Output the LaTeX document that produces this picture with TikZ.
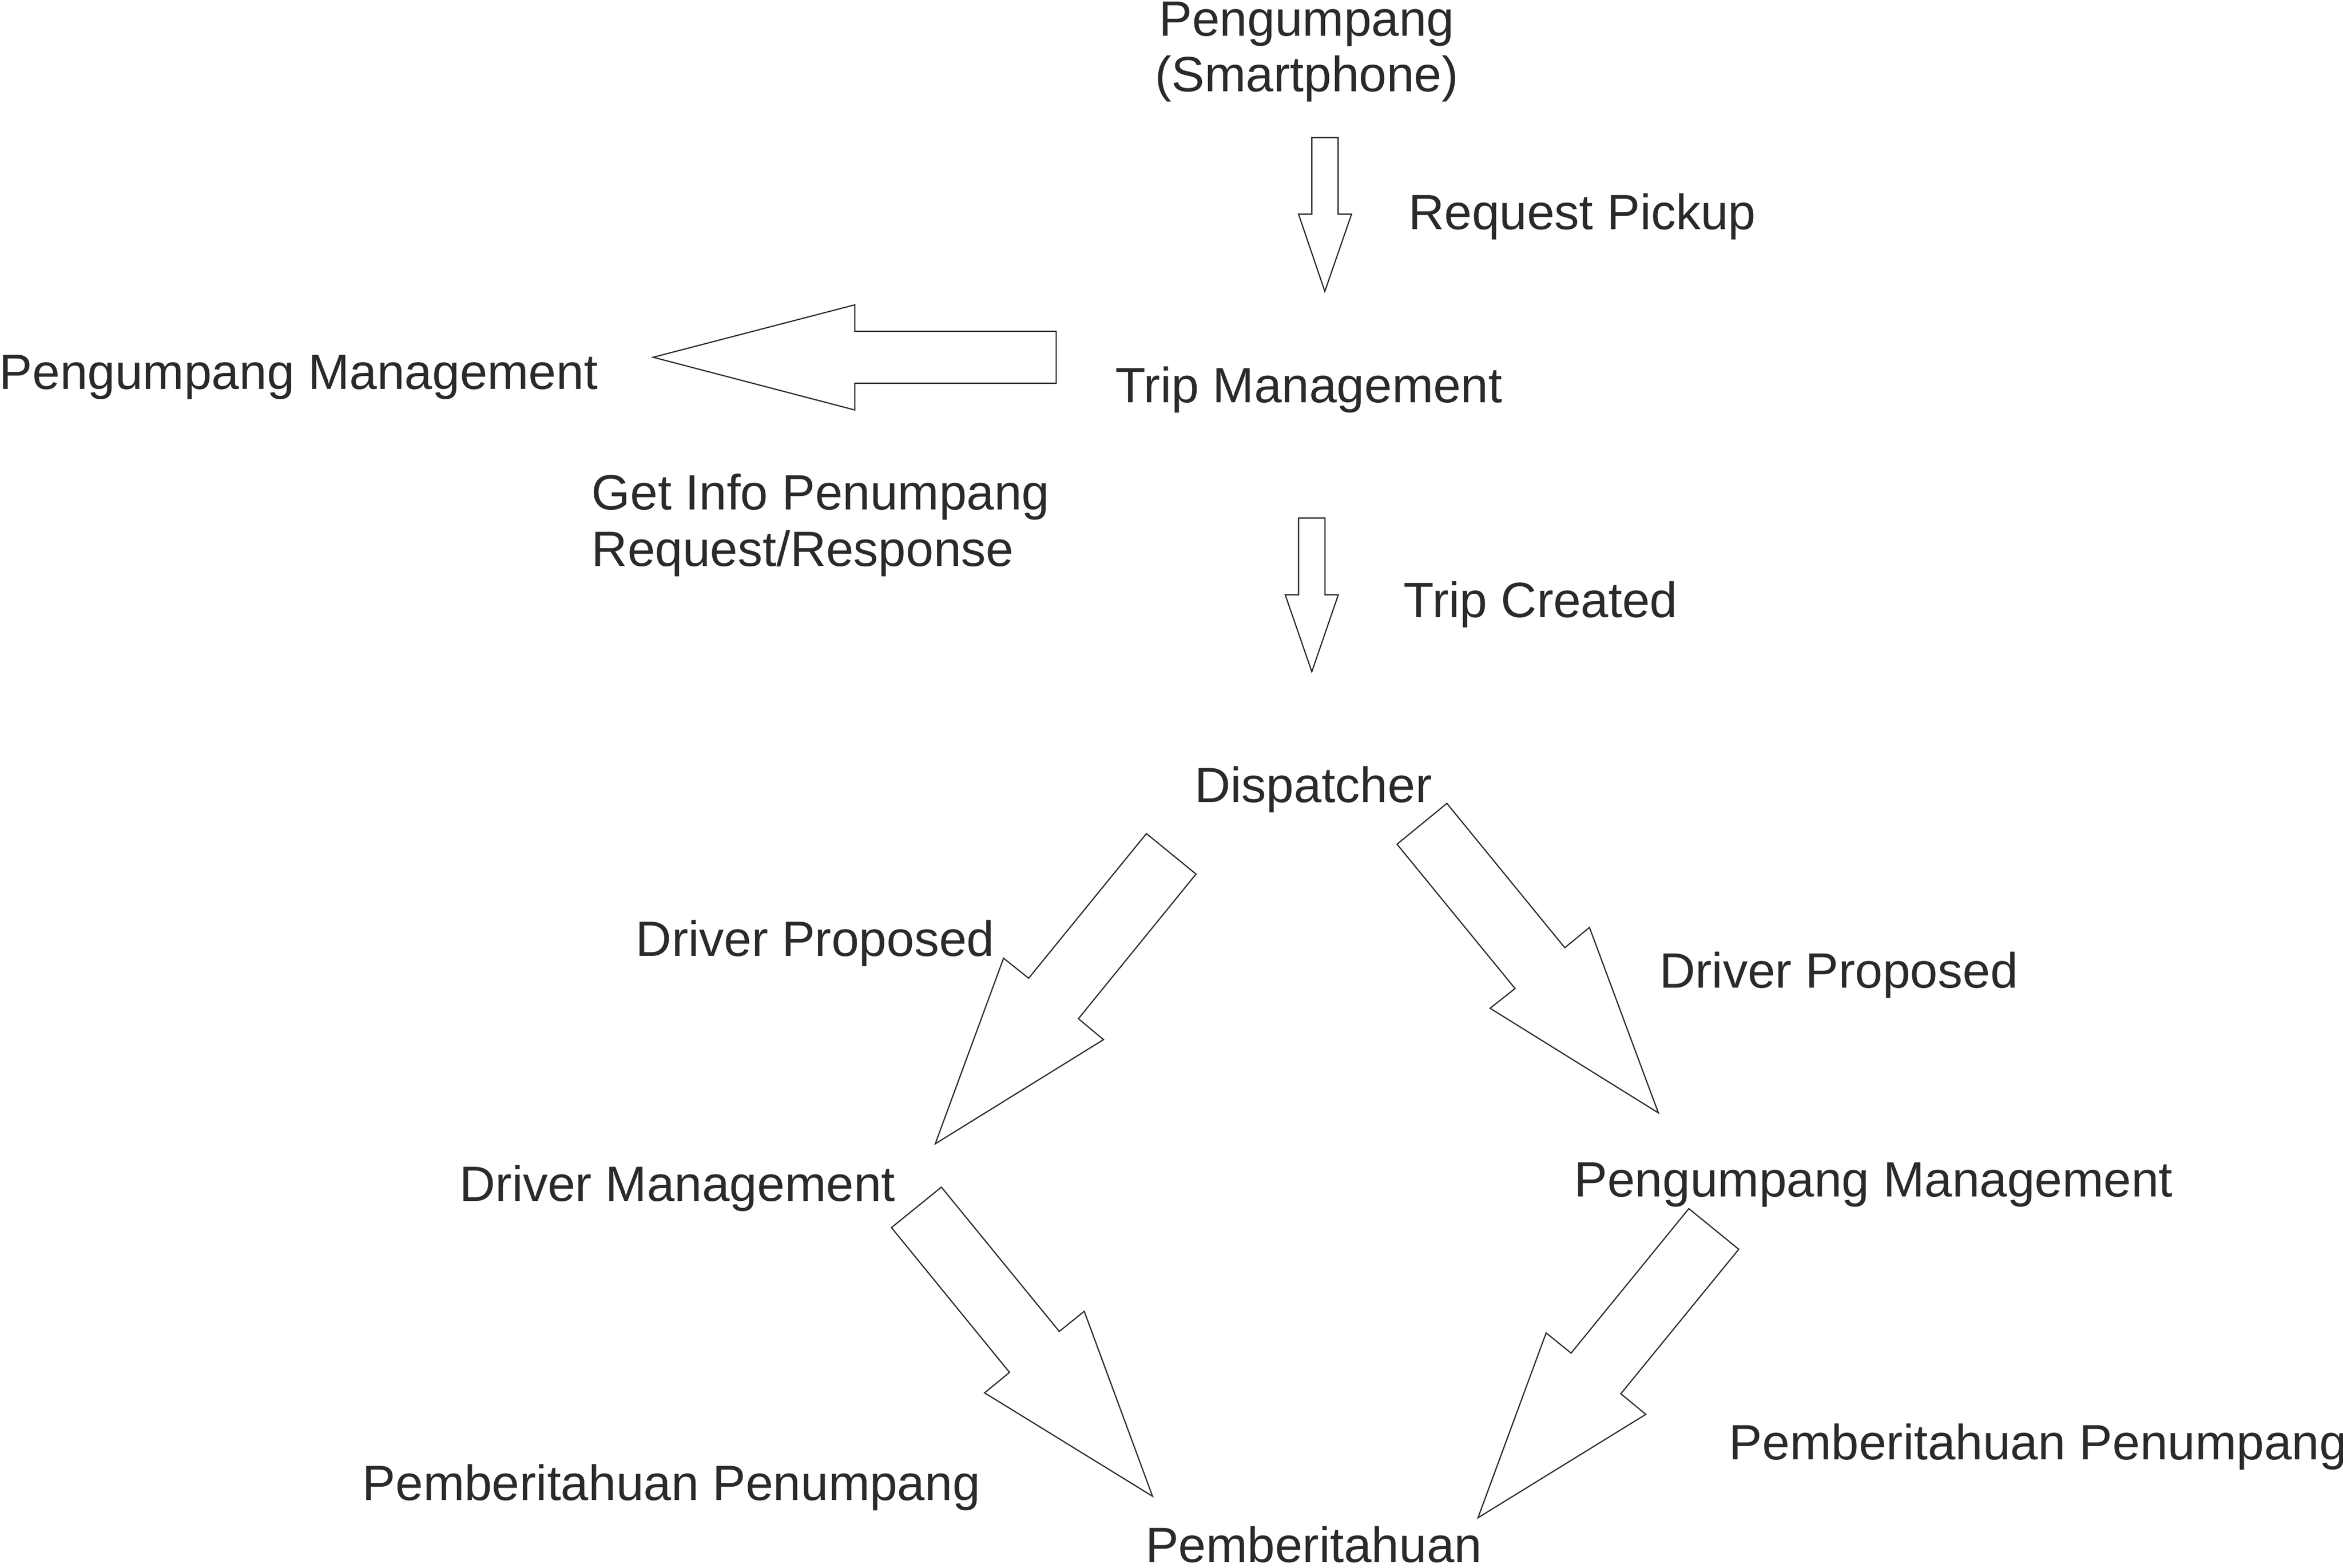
\documentclass[tikz,border=0pt]{standalone}
\usepackage{fontspec}
\setmainfont{Liberation Sans}
\definecolor{ink}{HTML}{2B2A29}
\tikzset{
  lbl/.style={anchor=base west, inner sep=0pt, outer sep=0pt, text=ink,
    font=\fontsize{16.6pt}{18.65pt}\selectfont},
  blockarrow/.style={draw=ink, line width=0.4pt, fill=white, line join=miter}
}
\begin{document}
\begin{tikzpicture}[x=0.5pt,y=-0.5pt]
\useasboundingbox (0,0) rectangle (1568,1049.4);

% labels
\node[lbl, anchor=base] (pass) at (874.5,24.1)
  {\begin{tabular}[t]{@{}c@{}}Pengumpang\\(Smartphone)\end{tabular}};
\node[lbl] (reqpick) at (942.6,153.5) {Request Pickup};
\node[lbl] (pmleft) at (-0.4,260.6) {Pengumpang Management};
\node[lbl] (trip) at (746.5,269.5) {Trip Management};
\node[lbl] (getinfo) at (396,341)
  {\begin{tabular}[t]{@{}l@{}}Get Info Penumpang\\[0.4pt]Request/Response\end{tabular}};
\node[lbl] (created) at (939.4,413) {Trip Created};
\node[lbl] (disp) at (799.6,537) {Dispatcher};
\node[lbl] (dpl) at (425.6,640) {Driver Proposed};
\node[lbl] (dpr) at (1110.6,661) {Driver Proposed};
\node[lbl] (drvm) at (307.6,804) {Driver Management};
\node[lbl] (pmright) at (1053.6,801) {Pengumpang Management};
\node[lbl] (ppr) at (1157.3,977) {Pemberitahuan Penumpang};
\node[lbl] (ppl) at (242.6,1004) {Pemberitahuan Penumpang};
\node[lbl] (notif) at (766.6,1045.5) {Pemberitahuan};

% block arrows
\draw[blockarrow] (877.9,92.1) -- (895.5,92.1) -- (895.5,143.3) -- (904.5,143.3)
  -- (886.6,195) -- (869,143.3) -- (877.9,143.3) -- cycle;
\draw[blockarrow] (437.1,239.1) -- (572.1,204.0) -- (572.1,221.7) -- (706.8,221.7)
  -- (706.8,256.5) -- (572.1,256.5) -- (572.1,274.4) -- cycle;
\draw[blockarrow] (869.0,346.7) -- (886.7,346.7) -- (886.7,398.1) -- (895.6,398.1)
  -- (877.9,449.6) -- (860.1,398.1) -- (869.0,398.1) -- cycle;
\draw[blockarrow] (767.2,557.9) -- (800.4,585.0) -- (721.7,681.8) -- (738.5,695.8)
  -- (625.9,765.5) -- (671.6,641.3) -- (688.4,654.7) -- cycle;
\draw[blockarrow] (968.3,537.7) -- (1047.2,634.3) -- (1063.7,620.7) -- (1109.8,744.8)
  -- (997.2,674.8) -- (1013.9,661.6) -- (934.9,565.0) -- cycle;
\draw[blockarrow] (630.0,794.5) -- (708.9,891.1) -- (725.6,877.6) -- (771.3,1001.4)
  -- (658.9,932.2) -- (675.6,918.5) -- (596.6,821.6) -- cycle;
\draw[blockarrow] (1130.2,808.9) -- (1163.6,836.1) -- (1084.7,932.8) -- (1101.4,946.6)
  -- (989.1,1015.8) -- (1034.7,892.1) -- (1051.4,905.6) -- cycle;
\end{tikzpicture}
\end{document}
